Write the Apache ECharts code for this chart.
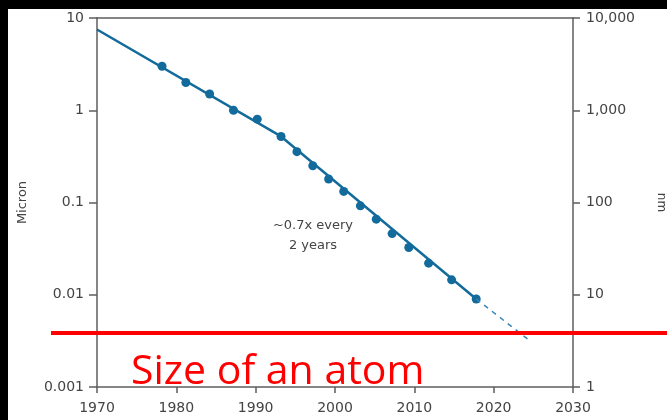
<!DOCTYPE html>
<html><head><meta charset="utf-8">
<script src="https://cdn.jsdelivr.net/npm/echarts@6/dist/echarts.min.js"></script>
<style>html,body{margin:0;padding:0;background:#fff}#c{width:667px;height:420px}</style>
</head><body><div id="c"></div>
<script>
// Data (years, feature size in micron)
const nodeYears  = [1978.2, 1981.2, 1984.2, 1987.2, 1990.2, 1993.2, 1995.2, 1997.2, 1999.2, 2001.1, 2003.2, 2005.2, 2007.2, 2009.3, 2011.8, 2014.7, 2017.8];
const nodeSizes  = [3.0, 2.0, 1.5, 1.0, 0.8, 0.52, 0.356, 0.25, 0.18, 0.132, 0.092, 0.066, 0.046, 0.0325, 0.022, 0.0145, 0.009];
const trendYears = [1970, 1993.2, 2017.8];
const trendSizes = [7.5, 0.52, 0.009];
const projYears  = [2017.8, 2024.3];
const projSizes  = [0.009, 0.0033];
const atomSize   = 0.00386;
const xTicks = [1970, 1980, 1990, 2000, 2010, 2020, 2030];
const yLeftLabels  = ['0.001', '0.01', '0.1', '1', '10'];
const yRightLabels = ['1', '10', '100', '1,000', '10,000'];
const annotation = '~0.7x every\n2 years';
const atomLabel = 'Size of an atom';

const pair = (xs, ys) => xs.map((x, i) => [x, ys[i]]);
const labelFont = 'DejaVu Sans';
const axisGray = '#5e5e5e';
const txtGray = '#444';
const blue = '#136b9c';

const chart = echarts.init(document.getElementById('c'), null, {renderer: 'canvas'});
chart.setOption({
  animation: false,
  backgroundColor: '#fff',
  grid: [
    {left: 97, right: 94, top: 18, bottom: 33, containLabel: false, outerBoundsMode: 'none'},
    {left: 51, right: 0, top: 18, bottom: 33, containLabel: false, outerBoundsMode: 'none'}
  ],
  xAxis: [
    {type: 'value', gridIndex: 0, position: 'bottom', min: xTicks[0], max: xTicks[xTicks.length-1], interval: 10,
     axisLine: {lineStyle: {color: axisGray, width: 1.5}},
     axisTick: {show: true, length: 6, lineStyle: {color: axisGray, width: 1.5}},
     axisLabel: {margin: 14, color: txtGray, fontFamily: labelFont, fontSize: 14, formatter: v => String(v)},
     splitLine: {show: false}},
    {type: 'value', gridIndex: 0, position: 'top', min: xTicks[0], max: xTicks[xTicks.length-1],
     axisLine: {show: true, lineStyle: {color: axisGray, width: 1.5}},
     axisTick: {show: false}, axisLabel: {show: false}, splitLine: {show: false}},
    {type: 'value', gridIndex: 1, min: 0, max: 1, show: false}
  ],
  yAxis: [
    {type: 'log', gridIndex: 0, logBase: 10, min: 0.001, max: 10, position: 'left',
     name: 'Micron', nameLocation: 'middle', nameGap: 68, nameRotate: 90,
     nameTextStyle: {color: txtGray, fontFamily: labelFont, fontSize: 13},
     axisLine: {show: true, lineStyle: {color: axisGray, width: 1.5}},
     axisTick: {show: true, length: 8, lineStyle: {color: axisGray, width: 1.5}},
     axisLabel: {margin: 13, color: txtGray, fontFamily: labelFont, fontSize: 14,
       formatter: v => yLeftLabels[Math.round(Math.log10(v)) + 3]},
     splitLine: {show: false}},
    {type: 'log', gridIndex: 0, logBase: 10, min: 1, max: 10000, position: 'right',
     name: 'nm', nameLocation: 'middle', nameGap: 82, nameRotate: -90,
     nameTextStyle: {color: txtGray, fontFamily: labelFont, fontSize: 12},
     axisLine: {show: true, lineStyle: {color: axisGray, width: 1.5}},
     axisTick: {show: true, length: 7, lineStyle: {color: axisGray, width: 1.5}},
     axisLabel: {margin: 13, color: txtGray, fontFamily: labelFont, fontSize: 14,
       formatter: v => yRightLabels[Math.round(Math.log10(v))]},
     splitLine: {show: false}},
    {type: 'log', gridIndex: 1, logBase: 10, min: 0.001, max: 10, show: false}
  ],
  series: [
    {type: 'line', xAxisIndex: 0, yAxisIndex: 0, data: pair(trendYears, trendSizes), showSymbol: false,
     lineStyle: {color: blue, width: 2.5}, silent: true},
    {type: 'line', xAxisIndex: 0, yAxisIndex: 0, data: pair(projYears, projSizes), showSymbol: false,
     lineStyle: {color: '#3a86b6', width: 1.5, type: [5, 5]}, silent: true},
    {type: 'scatter', xAxisIndex: 0, yAxisIndex: 0, data: pair(nodeYears, nodeSizes), symbolSize: 9,
     itemStyle: {color: blue, opacity: 1}, silent: true},
    {type: 'line', xAxisIndex: 2, yAxisIndex: 2, data: [[0, atomSize], [1, atomSize]], showSymbol: false,
     lineStyle: {color: '#ff0000', width: 4}, silent: true, z: 5}
  ],
  graphic: [
    {type: 'rect', left: 0, top: 0, shape: {width: 667, height: 9}, style: {fill: '#000'}, z: 100},
    {type: 'rect', left: 0, top: 0, shape: {width: 8, height: 420}, style: {fill: '#000'}, z: 100},
    {type: 'text', x: 313, y: 236, z: 50,
     style: {text: annotation, fill: txtGray, font: '13px "DejaVu Sans"', textAlign: 'center', textVerticalAlign: 'middle', lineHeight: 20}},
    {type: 'text', x: 131, y: 372, z: 50,
     style: {text: atomLabel, fill: '#ff0000', font: '41px "Open Sans"', textAlign: 'left', textVerticalAlign: 'middle'}}
  ]
});
</script></body></html>
